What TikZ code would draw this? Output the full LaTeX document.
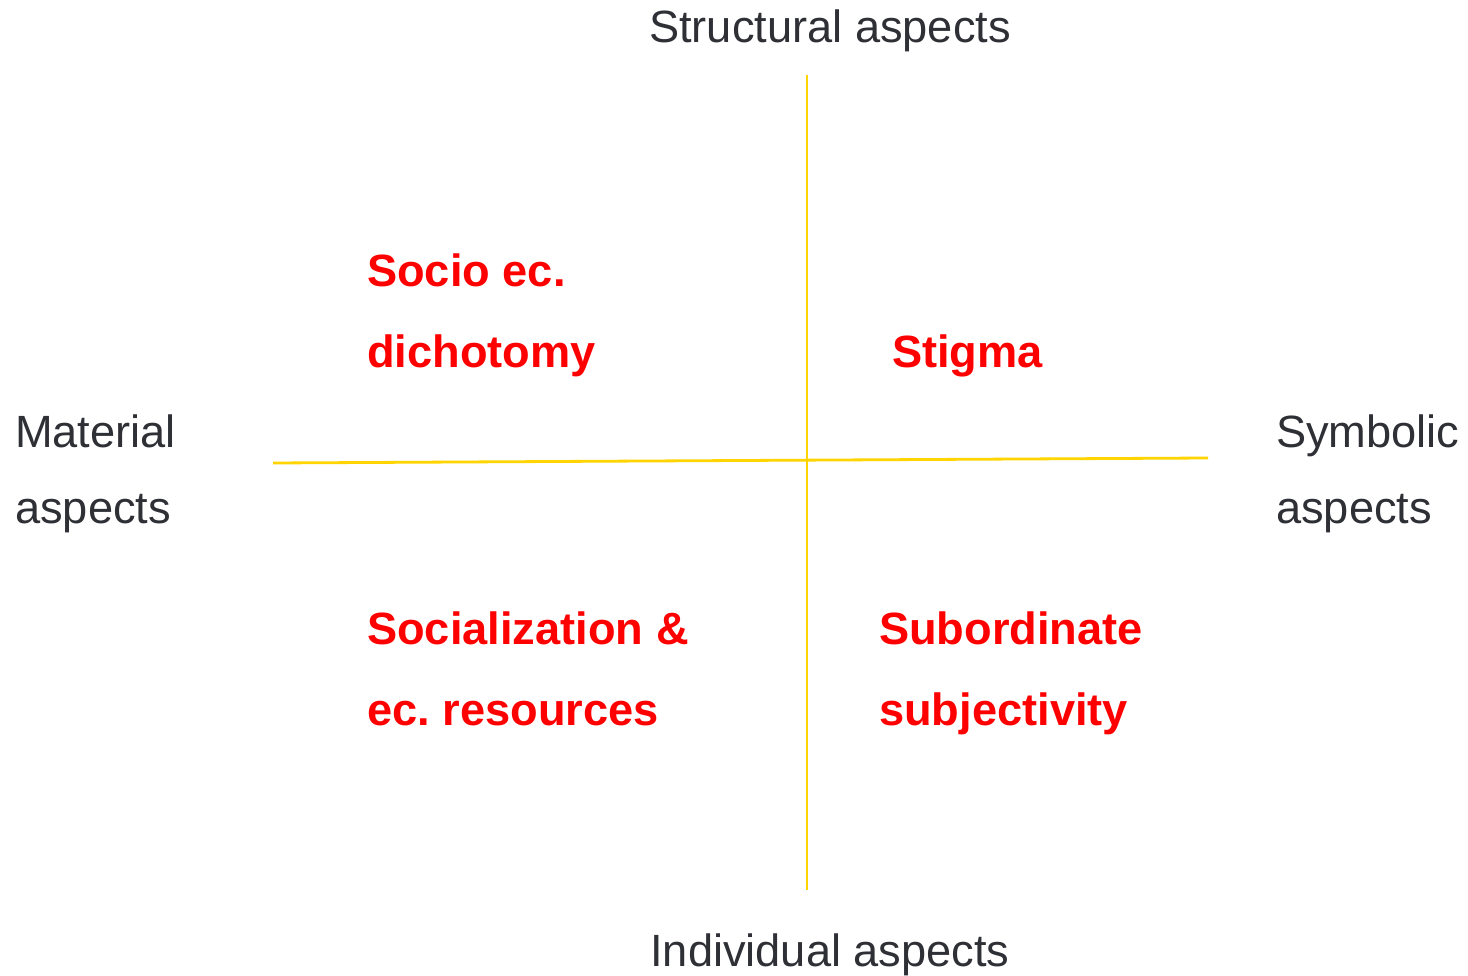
\documentclass[tikz,border=0pt]{standalone}
\usepackage{fontspec}
\setmainfont{Liberation Sans}
\frenchspacing
\definecolor{axisgray}{RGB}{46,48,54}
\definecolor{axisyellow}{RGB}{255,212,0}
\definecolor{quadred}{RGB}{255,0,0}
\begin{document}
\begin{tikzpicture}[x=1pt,y=-1pt,
  axislabel/.style={inner sep=0pt,text=axisgray,font=\fontsize{45.2}{54}\selectfont},
  quadlabel/.style={inner sep=0pt,text=quadred,font=\fontsize{45.2}{54}\selectfont\bfseries},
  axisline/.style={draw=axisyellow,line width=2.8pt}]
\useasboundingbox (0,0) rectangle (1468,976);
% axes
\coordinate (top) at (807,75);
\coordinate (bottom) at (807,890);
\coordinate (left) at (273,463);
\coordinate (right) at (1208,458);
\draw[axisline] (top) -- (bottom);
\draw[axisline] (left) -- (right);
% axis labels
\node[axislabel,anchor=base] (structural) at (830,43) {Structural aspects};
\node[axislabel,anchor=base] (individual) at (830,966) {Individual aspects};
\node[axislabel,anchor=base west] (material1) at (15,447) {Material};
\node[axislabel,anchor=base west] (material2) at (15,523) {aspects};
\node[axislabel,anchor=base west] (symbolic1) at (1276,447) {Symbolic};
\node[axislabel,anchor=base west] (symbolic2) at (1276,523) {aspects};
% quadrant labels
\node[quadlabel,anchor=base west] (socio1) at (367,287) {Socio ec.};
\node[quadlabel,anchor=base west] (socio2) at (367,368) {dichotomy};
\node[quadlabel,anchor=base west] (stigma) at (892,368) {Stigma};
\node[quadlabel,anchor=base west] (social1) at (367,644) {Socialization \&};
\node[quadlabel,anchor=base west] (social2) at (367,725) {ec. resources};
\node[quadlabel,anchor=base west] (subord1) at (879,644) {Subordinate};
\node[quadlabel,anchor=base west] (subord2) at (879,725) {subjectivity};
\end{tikzpicture}
\end{document}
